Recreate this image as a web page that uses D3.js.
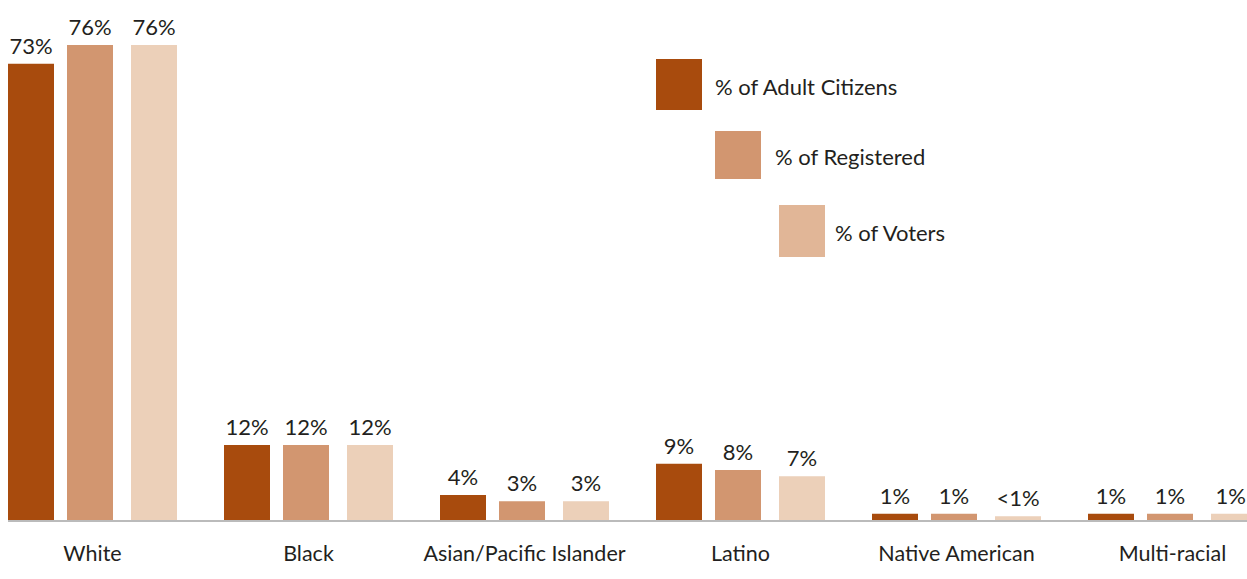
<!DOCTYPE html>
<html>
<head>
<meta charset="utf-8">
<script src="https://cdn.jsdelivr.net/npm/d3@7"></script>
<style>
  html, body { margin: 0; padding: 0; background: #ffffff; }
  svg { display: block; }
  text { font-family: "Lato", "Open Sans", sans-serif; fill: #231f20; }
</style>
</head>
<body>
<svg id="chart" width="1247" height="579"></svg>
<script>
// Share of each group among adult citizens, registered voters and voters
const categories = ["White", "Black", "Asian/Pacific Islander", "Latino", "Native American", "Multi-racial"];
const seriesNames = ["% of Adult Citizens", "% of Registered", "% of Voters"];

const adultCitizens = [73, 12, 4, 9, 1, 1];
const registered    = [76, 12, 3, 8, 1, 1];
const voters        = [76, 12, 3, 7, 0.6, 1];

const adultLabels      = ["73%", "12%", "4%", "9%", "1%", "1%"];
const registeredLabels = ["76%", "12%", "3%", "8%", "1%", "1%"];
const voterLabels      = ["76%", "12%", "3%", "7%", "<1%", "1%"];

const barColors    = ["#A84B0D", "#D29670", "#ECD0B9"];
const legendColors = ["#A84B0D", "#D29670", "#E1B697"];

const series = [
  { name: seriesNames[0], values: adultCitizens, labels: adultLabels },
  { name: seriesNames[1], values: registered,    labels: registeredLabels },
  { name: seriesNames[2], values: voters,        labels: voterLabels }
];

const W = 1247;
const svg = d3.select("#chart");
const baseY = 520;
const barW = 46;

const x0 = d3.scaleBand()
  .domain(categories)
  .range([8, 8 + 216 * categories.length])
  .paddingInner(0)
  .paddingOuter(0);

const x1 = d3.scaleOrdinal()
  .domain(seriesNames)
  .range([0, 59, 123]);

const color = d3.scaleOrdinal().domain(seriesNames).range(barColors);

const y = d3.scaleLinear().domain([0, 76]).range([baseY, 45]);

// bars and value labels
const groups = svg.selectAll("g.series")
  .data(series)
  .join("g")
  .attr("class", "series");

groups.selectAll("rect")
  .data(s => s.values.map((v, i) => ({ s: s.name, cat: categories[i], v })))
  .join("rect")
  .attr("x", d => x0(d.cat) + x1(d.s))
  .attr("y", d => y(d.v))
  .attr("width", barW)
  .attr("height", d => baseY - y(d.v))
  .attr("fill", d => color(d.s));

groups.selectAll("text")
  .data(s => s.values.map((v, i) => ({ s: s.name, cat: categories[i], v, label: s.labels[i] })))
  .join("text")
  .attr("x", d => x0(d.cat) + x1(d.s) + barW / 2)
  .attr("y", d => y(d.v) - 10)
  .attr("text-anchor", "middle")
  .style("font-size", "22px")
  .text(d => d.label)
  .each(function () {
    // keep labels of bars running past the right edge inside the page
    const t = d3.select(this);
    const half = this.getComputedTextLength() / 2;
    const cx = +t.attr("x");
    if (cx + half > W - 1) t.attr("x", W - 1 - half);
  });

// baseline
svg.append("line")
  .attr("x1", 8).attr("x2", W)
  .attr("y1", baseY + 1).attr("y2", baseY + 1)
  .attr("stroke", "#bbbbbb")
  .attr("stroke-width", 2);

// category labels
svg.selectAll("text.cat")
  .data(categories)
  .join("text")
  .attr("class", "cat")
  .attr("x", d => x0(d) + (x1(seriesNames[2]) + barW) / 2)
  .attr("y", 561)
  .attr("text-anchor", "middle")
  .style("font-size", "21.5px")
  .text(d => d);

// legend, stepped diagonally
const legendItems = [
  { name: seriesNames[0], x: 656, y: 59,  h: 51, gap: 13, fill: legendColors[0] },
  { name: seriesNames[1], x: 715, y: 131, h: 48, gap: 14, fill: legendColors[1] },
  { name: seriesNames[2], x: 779, y: 205, h: 52, gap: 10, fill: legendColors[2] }
];

const legend = svg.append("g").attr("class", "legend");
const li = legend.selectAll("g")
  .data(legendItems)
  .join("g");

li.append("rect")
  .attr("x", d => d.x)
  .attr("y", d => d.y)
  .attr("width", barW)
  .attr("height", d => d.h)
  .attr("fill", d => d.fill);

li.append("text")
  .attr("x", d => d.x + barW + d.gap)
  .attr("y", d => d.y + d.h / 2 + 10)
  .style("font-size", "22px")
  .text(d => d.name);
</script>
</body>
</html>
